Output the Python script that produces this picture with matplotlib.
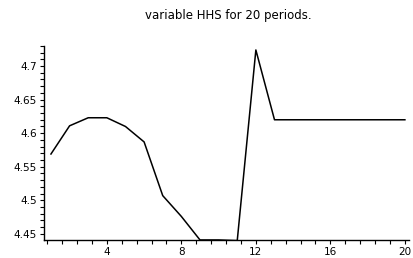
import numpy as np
import matplotlib.pyplot as plt
from matplotlib.ticker import MultipleLocator

# HHS series, periods 1..20
periods = list(range(1, 21))
hhs = [4.569, 4.611, 4.623, 4.623, 4.610, 4.587, 4.507, 4.476, 4.441, 4.441,
       4.440, 4.724, 4.620, 4.620, 4.620, 4.620, 4.620, 4.620, 4.620, 4.620]
x_ticks = [4, 8, 12, 16, 20]
y_ticks = [4.45, 4.5, 4.55, 4.6, 4.65, 4.7]
y_labels = ['4.45', '4.5', '4.55', '4.6', '4.65', '4.7']

fig = plt.figure(figsize=(4.14, 2.58), dpi=100)
ax = fig.add_axes([0.106, 0.070, 0.881, 0.752])

ax.plot(periods, hhs, color='black', lw=1.1)

ax.set_xlim(0.62, 20.2)
ax.set_ylim(4.441, 4.73)

for s in ['top', 'right']:
    ax.spines[s].set_visible(False)
for s in ['left', 'bottom']:
    ax.spines[s].set_linewidth(1.0)

ax.set_xticks(x_ticks)
ax.set_xticklabels([str(t) for t in x_ticks])
ax.xaxis.set_minor_locator(MultipleLocator(0.8))
ax.set_yticks(y_ticks)
ax.set_yticklabels(y_labels)
ax.yaxis.set_minor_locator(MultipleLocator(0.01))

ax.tick_params(which='both', direction='out', length=3, width=0.8,
               labelsize=7.5, pad=2, colors='black')

fig.text(0.551, 0.938, 'variable HHS for 20 periods.', ha='center', va='center',
         fontsize=8.5)

fig.savefig('out.png', dpi=100)
